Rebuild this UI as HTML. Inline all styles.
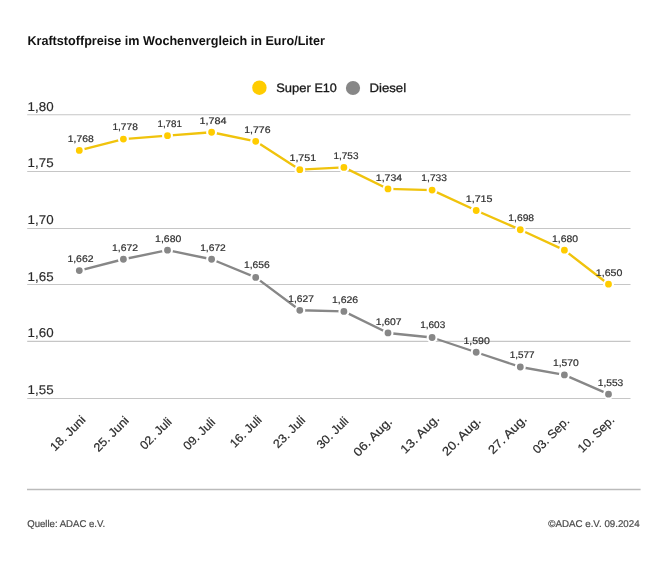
<!DOCTYPE html>
<html><head><meta charset="utf-8"><style>
html,body{margin:0;padding:0;background:#fff;}
svg{display:block;}
text{font-family:"Liberation Sans",sans-serif;text-rendering:geometricPrecision;}
.t{font-weight:bold;font-size:12.9px;fill:#111;}
.yl{font-size:12.8px;fill:#2b2b2b;stroke:#2b2b2b;stroke-width:0.15px;}
.dl{font-size:9.6px;fill:#333;stroke:#333;stroke-width:0.22px;}
.xl{font-size:12px;fill:#2b2b2b;stroke:#2b2b2b;stroke-width:0.2px;text-anchor:end;}
.lg{font-size:12.2px;fill:#1a1a1a;stroke:#1a1a1a;stroke-width:0.3px;}
.ft{font-size:9.8px;fill:#4a4a4a;stroke:#4a4a4a;stroke-width:0.2px;}
</style></head><body>
<svg width="668" height="585" viewBox="0 0 668 585">
<rect width="668" height="585" fill="#fff"/>
<text x="27.4" y="45.4" class="t" textLength="297.6" lengthAdjust="spacingAndGlyphs">Kraftstoffpreise im Wochenvergleich in Euro/Liter</text>
<circle cx="259.4" cy="87.7" r="7.2" fill="#ffcc00"/>
<text y="92" class="lg"><tspan x="276.2" textLength="34.6" lengthAdjust="spacingAndGlyphs">Super</tspan> <tspan x="314.4" textLength="22.4" lengthAdjust="spacingAndGlyphs">E10</tspan></text>
<circle cx="353" cy="88" r="7.1" fill="#878787"/>
<text x="369.5" y="92.2" class="lg" textLength="36.6" lengthAdjust="spacingAndGlyphs">Diesel</text>
<line x1="27.2" y1="114.80" x2="630.5" y2="114.80" stroke="#c6c6c6" stroke-width="1.1"/>
<text x="27.6" y="110.90" class="yl" textLength="26" lengthAdjust="spacingAndGlyphs">1,80</text>
<line x1="27.2" y1="171.50" x2="630.5" y2="171.50" stroke="#c6c6c6" stroke-width="1.1"/>
<text x="27.6" y="167.30" class="yl" textLength="26" lengthAdjust="spacingAndGlyphs">1,75</text>
<line x1="27.2" y1="228.45" x2="630.5" y2="228.45" stroke="#c6c6c6" stroke-width="1.1"/>
<text x="27.6" y="224.10" class="yl" textLength="26" lengthAdjust="spacingAndGlyphs">1,70</text>
<line x1="27.2" y1="284.50" x2="630.5" y2="284.50" stroke="#c6c6c6" stroke-width="1.1"/>
<text x="27.6" y="280.60" class="yl" textLength="26" lengthAdjust="spacingAndGlyphs">1,65</text>
<line x1="27.2" y1="341.40" x2="630.5" y2="341.40" stroke="#c6c6c6" stroke-width="1.1"/>
<text x="27.6" y="337.00" class="yl" textLength="26" lengthAdjust="spacingAndGlyphs">1,60</text>
<line x1="27.2" y1="398.45" x2="630.5" y2="398.45" stroke="#c6c6c6" stroke-width="1.1"/>
<text x="27.6" y="394.10" class="yl" textLength="26" lengthAdjust="spacingAndGlyphs">1,55</text>
<polyline points="79.30,150.39 123.40,139.05 167.50,135.65 211.60,132.24 255.70,141.32 299.80,169.67 343.90,167.40 388.00,188.94 432.10,190.08 476.20,210.49 520.30,229.77 564.40,250.18 608.50,284.20" fill="none" stroke="#f0c30c" stroke-width="2.35" stroke-linejoin="round"/>
<circle cx="79.30" cy="150.39" r="4.45" fill="#ffcc00" stroke="#fff" stroke-width="2.1"/>
<circle cx="123.40" cy="139.05" r="4.45" fill="#ffcc00" stroke="#fff" stroke-width="2.1"/>
<circle cx="167.50" cy="135.65" r="4.45" fill="#ffcc00" stroke="#fff" stroke-width="2.1"/>
<circle cx="211.60" cy="132.24" r="4.45" fill="#ffcc00" stroke="#fff" stroke-width="2.1"/>
<circle cx="255.70" cy="141.32" r="4.45" fill="#ffcc00" stroke="#fff" stroke-width="2.1"/>
<circle cx="299.80" cy="169.67" r="4.45" fill="#ffcc00" stroke="#fff" stroke-width="2.1"/>
<circle cx="343.90" cy="167.40" r="4.45" fill="#ffcc00" stroke="#fff" stroke-width="2.1"/>
<circle cx="388.00" cy="188.94" r="4.45" fill="#ffcc00" stroke="#fff" stroke-width="2.1"/>
<circle cx="432.10" cy="190.08" r="4.45" fill="#ffcc00" stroke="#fff" stroke-width="2.1"/>
<circle cx="476.20" cy="210.49" r="4.45" fill="#ffcc00" stroke="#fff" stroke-width="2.1"/>
<circle cx="520.30" cy="229.77" r="4.45" fill="#ffcc00" stroke="#fff" stroke-width="2.1"/>
<circle cx="564.40" cy="250.18" r="4.45" fill="#ffcc00" stroke="#fff" stroke-width="2.1"/>
<circle cx="608.50" cy="284.20" r="4.45" fill="#ffcc00" stroke="#fff" stroke-width="2.1"/>
<text x="67.85" y="142.00" class="dl" textLength="25.90" lengthAdjust="spacingAndGlyphs">1,768</text>
<text x="112.41" y="129.90" class="dl" textLength="25.38" lengthAdjust="spacingAndGlyphs">1,778</text>
<text x="157.44" y="127.20" class="dl" textLength="24.57" lengthAdjust="spacingAndGlyphs">1,781</text>
<text x="199.53" y="123.70" class="dl" textLength="27.06" lengthAdjust="spacingAndGlyphs">1,784</text>
<text x="244.23" y="132.70" class="dl" textLength="26.32" lengthAdjust="spacingAndGlyphs">1,776</text>
<text x="289.45" y="160.70" class="dl" textLength="26.76" lengthAdjust="spacingAndGlyphs">1,751</text>
<text x="333.47" y="159.20" class="dl" textLength="25.01" lengthAdjust="spacingAndGlyphs">1,753</text>
<text x="375.79" y="180.70" class="dl" textLength="26.33" lengthAdjust="spacingAndGlyphs">1,734</text>
<text x="421.39" y="180.70" class="dl" textLength="25.61" lengthAdjust="spacingAndGlyphs">1,733</text>
<text x="465.73" y="201.70" class="dl" textLength="26.79" lengthAdjust="spacingAndGlyphs">1,715</text>
<text x="508.30" y="220.70" class="dl" textLength="25.81" lengthAdjust="spacingAndGlyphs">1,698</text>
<text x="552.08" y="241.70" class="dl" textLength="26.02" lengthAdjust="spacingAndGlyphs">1,680</text>
<text x="595.86" y="275.90" class="dl" textLength="26.54" lengthAdjust="spacingAndGlyphs">1,650</text>
<polyline points="79.30,270.59 123.40,259.25 167.50,250.18 211.60,259.25 255.70,277.40 299.80,310.28 343.90,311.42 388.00,332.96 432.10,337.50 476.20,352.24 520.30,366.98 564.40,374.92 608.50,394.20" fill="none" stroke="#878787" stroke-width="2.35" stroke-linejoin="round"/>
<circle cx="79.30" cy="270.59" r="4.45" fill="#878787" stroke="#fff" stroke-width="2.1"/>
<circle cx="123.40" cy="259.25" r="4.45" fill="#878787" stroke="#fff" stroke-width="2.1"/>
<circle cx="167.50" cy="250.18" r="4.45" fill="#878787" stroke="#fff" stroke-width="2.1"/>
<circle cx="211.60" cy="259.25" r="4.45" fill="#878787" stroke="#fff" stroke-width="2.1"/>
<circle cx="255.70" cy="277.40" r="4.45" fill="#878787" stroke="#fff" stroke-width="2.1"/>
<circle cx="299.80" cy="310.28" r="4.45" fill="#878787" stroke="#fff" stroke-width="2.1"/>
<circle cx="343.90" cy="311.42" r="4.45" fill="#878787" stroke="#fff" stroke-width="2.1"/>
<circle cx="388.00" cy="332.96" r="4.45" fill="#878787" stroke="#fff" stroke-width="2.1"/>
<circle cx="432.10" cy="337.50" r="4.45" fill="#878787" stroke="#fff" stroke-width="2.1"/>
<circle cx="476.20" cy="352.24" r="4.45" fill="#878787" stroke="#fff" stroke-width="2.1"/>
<circle cx="520.30" cy="366.98" r="4.45" fill="#878787" stroke="#fff" stroke-width="2.1"/>
<circle cx="564.40" cy="374.92" r="4.45" fill="#878787" stroke="#fff" stroke-width="2.1"/>
<circle cx="608.50" cy="394.20" r="4.45" fill="#878787" stroke="#fff" stroke-width="2.1"/>
<text x="67.42" y="261.90" class="dl" textLength="26.06" lengthAdjust="spacingAndGlyphs">1,662</text>
<text x="112.08" y="250.70" class="dl" textLength="25.94" lengthAdjust="spacingAndGlyphs">1,672</text>
<text x="155.14" y="241.70" class="dl" textLength="26.14" lengthAdjust="spacingAndGlyphs">1,680</text>
<text x="200.20" y="250.50" class="dl" textLength="25.60" lengthAdjust="spacingAndGlyphs">1,672</text>
<text x="244.00" y="268.20" class="dl" textLength="25.68" lengthAdjust="spacingAndGlyphs">1,656</text>
<text x="288.38" y="301.50" class="dl" textLength="25.48" lengthAdjust="spacingAndGlyphs">1,627</text>
<text x="332.01" y="302.50" class="dl" textLength="26.18" lengthAdjust="spacingAndGlyphs">1,626</text>
<text x="375.67" y="324.50" class="dl" textLength="25.92" lengthAdjust="spacingAndGlyphs">1,607</text>
<text x="420.18" y="328.00" class="dl" textLength="25.07" lengthAdjust="spacingAndGlyphs">1,603</text>
<text x="463.48" y="343.50" class="dl" textLength="26.26" lengthAdjust="spacingAndGlyphs">1,590</text>
<text x="509.77" y="358.10" class="dl" textLength="24.81" lengthAdjust="spacingAndGlyphs">1,577</text>
<text x="552.90" y="366.40" class="dl" textLength="25.85" lengthAdjust="spacingAndGlyphs">1,570</text>
<text x="597.71" y="385.90" class="dl" textLength="25.62" lengthAdjust="spacingAndGlyphs">1,553</text>
<text x="86.29" y="420.61" class="xl" textLength="44.09" lengthAdjust="spacingAndGlyphs" transform="rotate(-45 86.29 420.61)">18. Juni</text>
<text x="129.59" y="421.31" class="xl" textLength="44.09" lengthAdjust="spacingAndGlyphs" transform="rotate(-45 129.59 421.31)">25. Juni</text>
<text x="172.58" y="422.42" class="xl" textLength="39.43" lengthAdjust="spacingAndGlyphs" transform="rotate(-45 172.58 422.42)">02. Juli</text>
<text x="215.98" y="422.92" class="xl" textLength="39.43" lengthAdjust="spacingAndGlyphs" transform="rotate(-45 215.98 422.92)">09. Juli</text>
<text x="262.58" y="420.42" class="xl" textLength="39.43" lengthAdjust="spacingAndGlyphs" transform="rotate(-45 262.58 420.42)">16. Juli</text>
<text x="305.98" y="420.82" class="xl" textLength="39.43" lengthAdjust="spacingAndGlyphs" transform="rotate(-45 305.98 420.82)">23. Juli</text>
<text x="349.28" y="421.72" class="xl" textLength="39.43" lengthAdjust="spacingAndGlyphs" transform="rotate(-45 349.28 421.72)">30. Juli</text>
<text x="392.95" y="422.36" class="xl" textLength="49.17" lengthAdjust="spacingAndGlyphs" transform="rotate(-45 392.95 422.36)">06. Aug.</text>
<text x="440.15" y="419.46" class="xl" textLength="49.17" lengthAdjust="spacingAndGlyphs" transform="rotate(-45 440.15 419.46)">13. Aug.</text>
<text x="481.75" y="421.66" class="xl" textLength="49.17" lengthAdjust="spacingAndGlyphs" transform="rotate(-45 481.75 421.66)">20. Aug.</text>
<text x="527.75" y="419.96" class="xl" textLength="49.17" lengthAdjust="spacingAndGlyphs" transform="rotate(-45 527.75 419.96)">27. Aug.</text>
<text x="570.17" y="421.74" class="xl" textLength="46.09" lengthAdjust="spacingAndGlyphs" transform="rotate(-45 570.17 421.74)">03. Sep.</text>
<text x="615.17" y="420.64" class="xl" textLength="46.09" lengthAdjust="spacingAndGlyphs" transform="rotate(-45 615.17 420.64)">10. Sep.</text>
<line x1="27" y1="489.6" x2="640.6" y2="489.6" stroke="#bbb" stroke-width="1.5"/>
<text x="27.2" y="526.9" class="ft" textLength="78" lengthAdjust="spacingAndGlyphs">Quelle: ADAC e.V.</text>
<text x="548.3" y="527" class="ft" textLength="91.3" lengthAdjust="spacingAndGlyphs">©ADAC e.V. 09.2024</text>
</svg>
</body></html>
